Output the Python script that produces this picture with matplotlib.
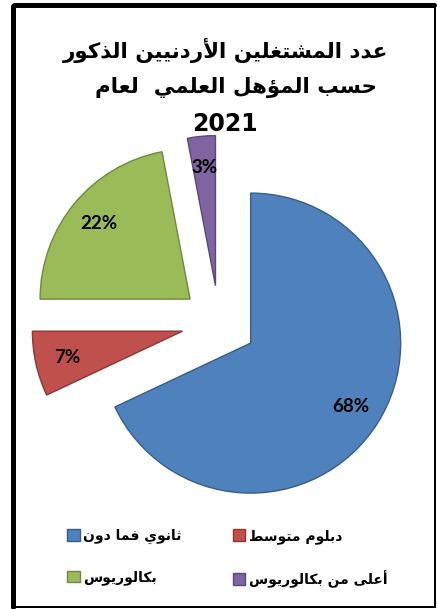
import matplotlib
matplotlib.use("Agg")
import matplotlib.pyplot as plt
from matplotlib.lines import Line2D

# ---------------- data ----------------
categories = ["ثانوي فما دون", "دبلوم متوسط", "بكالوريوس", "أعلى من بكالوريوس"]
values = [68, 7, 22, 3]
colors = ["#4F81BD", "#C0504D", "#9BBB59", "#8064A2"]
edge_colors = ["#385D8A", "#8C3836", "#71893F", "#5C4776"]
title_lines = ["عدد المشتغلين الأردنيين الذكور", "حسب المؤهل العلمي  لعام", "2021"]

# ------------- minimal Arabic shaping (presentation forms + RTL) -------------
FORMS = {
    '\u0621': (0xFE80, 1), '\u0622': (0xFE81, 2), '\u0623': (0xFE83, 2), '\u0624': (0xFE85, 2),
    '\u0625': (0xFE87, 2), '\u0626': (0xFE89, 4), '\u0627': (0xFE8D, 2), '\u0628': (0xFE8F, 4),
    '\u0629': (0xFE93, 2), '\u062A': (0xFE95, 4), '\u062B': (0xFE99, 4), '\u062C': (0xFE9D, 4),
    '\u062D': (0xFEA1, 4), '\u062E': (0xFEA5, 4), '\u062F': (0xFEA9, 2), '\u0630': (0xFEAB, 2),
    '\u0631': (0xFEAD, 2), '\u0632': (0xFEAF, 2), '\u0633': (0xFEB1, 4), '\u0634': (0xFEB5, 4),
    '\u0635': (0xFEB9, 4), '\u0636': (0xFEBD, 4), '\u0637': (0xFEC1, 4), '\u0638': (0xFEC5, 4),
    '\u0639': (0xFEC9, 4), '\u063A': (0xFECD, 4), '\u0641': (0xFED1, 4), '\u0642': (0xFED5, 4),
    '\u0643': (0xFED9, 4), '\u0644': (0xFEDD, 4), '\u0645': (0xFEE1, 4), '\u0646': (0xFEE5, 4),
    '\u0647': (0xFEE9, 4), '\u0648': (0xFEED, 2), '\u0649': (0xFEEF, 2), '\u064A': (0xFEF1, 4),
}
LAM_ALEF = {'\u0622': (0xFEF5, 0xFEF6), '\u0623': (0xFEF7, 0xFEF8),
            '\u0625': (0xFEF9, 0xFEFA), '\u0627': (0xFEFB, 0xFEFC)}


def shape(s):
    if not any(c in FORMS for c in s):
        return s
    out = []
    n = len(s)
    i = 0
    while i < n:
        c = s[i]
        if c not in FORMS:
            out.append(c)
            i += 1
            continue
        prev = s[i - 1] if i > 0 else None
        prev_joins = prev is not None and prev in FORMS and FORMS[prev][1] == 4
        if c == '\u0644' and i + 1 < n and s[i + 1] in LAM_ALEF:
            iso, fin = LAM_ALEF[s[i + 1]]
            out.append(chr(fin if prev_joins else iso))
            i += 2
            continue
        nxt = s[i + 1] if i + 1 < n else None
        next_joins = FORMS[c][1] == 4 and nxt is not None and nxt in FORMS
        base, nf = FORMS[c]
        if nf == 1:
            form = base
        elif prev_joins and next_joins:
            form = base + 3
        elif prev_joins:
            form = base + 1
        elif next_joins:
            form = base + 2
        else:
            form = base
        out.append(chr(form))
        i += 1
    return ''.join(reversed(out))


# ---------------- figure ----------------
W, H = 437, 609
fig = plt.figure(figsize=(W / 100, H / 100), dpi=100)
fig.patch.set_facecolor("white")

cx, cy, R = 219, 323, 150  # pie centre (pixels from top-left) and radius
ax = fig.add_axes([0, 0, 1, 1])
wedges, texts, autotexts = ax.pie(
    values, colors=colors, startangle=90, counterclock=False,
    explode=[0.25] * len(values), radius=1.0,
    autopct=lambda p: f"{p:.0f}%", pctdistance=0.79,
    wedgeprops=dict(linewidth=1.0),
    textprops=dict(fontsize=13.5, fontweight="bold", family=["Lato", "DejaVu Sans"], color="black"),
)
for w, ec in zip(wedges, edge_colors):
    w.set_edgecolor(ec)
ax.set_aspect("auto")
ax.set_xlim(-cx / R, (W - cx) / R)
ax.set_ylim(-(H - cy) / R, cy / R)
ax.axis("off")


def px(x, y):
    return x / W, 1 - y / H


# title
title_pos = [(226, 58, 15.4), (236, 93, 15.4), (225, 131, 17)]
for line, (x, y, fs) in zip(title_lines, title_pos):
    fx, fy = px(x, y)
    fig.text(fx, fy, shape(line), ha="center", va="baseline", fontsize=fs,
             fontweight="bold", family=["DejaVu Sans"])

# legend (column-first order: blue, green | red, purple)
order = [0, 2, 1, 3]
lx, ly = px(67, 529)
leg = fig.legend([wedges[i] for i in order], [shape(categories[i]) for i in order],
                 ncol=2, frameon=False, loc="upper left", bbox_to_anchor=(lx, ly),
                 prop=dict(size=10, weight="bold", family="DejaVu Sans"),
                 handlelength=0.9, handleheight=0.9, handletextpad=0.25,
                 columnspacing=3.7, labelspacing=1.9, borderaxespad=0, borderpad=0)

# frame: thick left/top, thin right/bottom
def fline(x0, y0, x1, y1, lw_px):
    a = px(x0, y0)
    b = px(x1, y1)
    fig.add_artist(Line2D([a[0], b[0]], [a[1], b[1]], transform=fig.transFigure,
                          color="black", linewidth=lw_px * 0.72, solid_capstyle="round"))

fline(12.5, 6, 12.5, 607, 5)
fline(14, 4.5, 434, 4.5, 5)
fline(434.5, 5, 434.5, 607, 2)
fline(12, 607, 435, 607, 2)

fig.savefig("out.png", dpi=100, facecolor="white")
